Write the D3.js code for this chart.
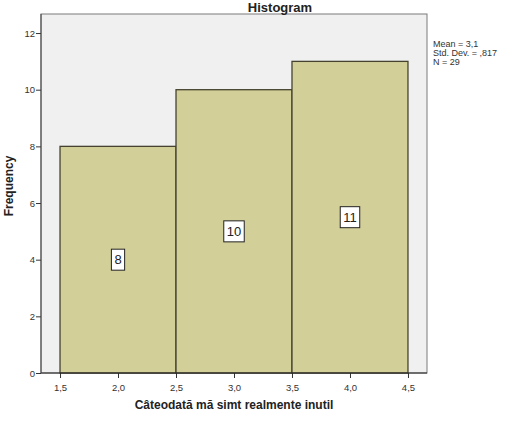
<!DOCTYPE html>
<html>
<head>
<meta charset="utf-8">
<script src="https://cdn.jsdelivr.net/npm/d3@7"></script>
<style>
  body { margin: 0; background: #fff; }
  text { font-family: "Liberation Sans", Arial, sans-serif; }
</style>
</head>
<body>
<svg width="512" height="423"></svg>
<script>
// intervalele histogramei si frecventele
const binStart = [1.5, 2.5, 3.5];
const binEnd = [2.5, 3.5, 4.5];
const freq = [8, 10, 11];
const xTicks = [1.5, 2.0, 2.5, 3.0, 3.5, 4.0, 4.5];
const yTicks = [0, 2, 4, 6, 8, 10, 12];
const stats = ["Mean = 3,1", "Std. Dev. = ,817", "N = 29"];

const svg = d3.select("svg");
const pLeft = 41, pRight = 427, pTop = 14, pBottom = 373;

const x = d3.scaleLinear()
    .domain([1.336, 4.664])
    .range([pLeft, pRight]);

const y = d3.scaleLinear()
    .domain([0, 12])
    .range([pBottom, pBottom - 12 * 28.33]);

// fundalul zonei de grafic
svg.append("rect")
    .attr("x", pLeft).attr("y", pTop)
    .attr("width", pRight - pLeft).attr("height", pBottom - pTop)
    .attr("fill", "#f0f0f0")
    .attr("stroke", "#7a7a7a");

const bins = freq.map((f, i) => ({x0: binStart[i], x1: binEnd[i], n: f}));

svg.selectAll("rect.bar")
  .data(bins)
  .enter().append("rect")
    .attr("class", "bar")
    .attr("x", d => x(d.x0))
    .attr("y", d => y(d.n))
    .attr("width", d => x(d.x1) - x(d.x0))
    .attr("height", d => y(0) - y(d.n))
    .attr("fill", "#d3cf99")
    .attr("stroke", "#45432f")
    .attr("stroke-width", 1.3);

// etichetele cu valori
const lab = svg.selectAll("g.lab")
  .data(bins)
  .enter().append("g")
    .attr("class", "lab")
    .attr("transform", d => `translate(${x((d.x0 + d.x1) / 2)},${y(d.n / 2)})`);

lab.append("text")
    .attr("text-anchor", "middle")
    .attr("dy", "0.36em")
    .attr("font-size", 13)
    .attr("fill", "#222")
    .text(d => d.n)
    .each(function() {
      const b = this.getBBox();
      d3.select(this.parentNode).insert("rect", "text")
        .attr("x", b.x - 3).attr("y", -10.5)
        .attr("width", b.width + 6).attr("height", 21)
        .attr("fill", "#fff")
        .attr("stroke", "#222")
        .attr("stroke-width", 1);
    });

// axe
const gx = svg.append("g")
    .attr("transform", `translate(0,${pBottom})`)
    .call(d3.axisBottom(x)
      .tickValues(xTicks)
      .tickSize(5)
      .tickFormat(d => d3.format(".1f")(d).replace(".", ",")));
gx.select(".domain").remove();
gx.selectAll("text").attr("font-size", 9.5).attr("fill", "#333").attr("dy", "1.1em");
gx.selectAll("line").attr("stroke", "#333");

const gy = svg.append("g")
    .attr("transform", `translate(${pLeft},0)`)
    .call(d3.axisLeft(y)
      .tickValues(yTicks)
      .tickSize(5)
      .tickFormat(d3.format("d")));
gy.select(".domain").remove();
gy.selectAll("text").attr("font-size", 9.5).attr("fill", "#333").attr("x", -6);
gy.selectAll("line").attr("stroke", "#333");

svg.append("line")
    .attr("x1", pLeft).attr("x2", pRight)
    .attr("y1", pBottom).attr("y2", pBottom)
    .attr("stroke", "#222");
svg.append("line")
    .attr("x1", pLeft).attr("x2", pLeft)
    .attr("y1", pTop).attr("y2", pBottom)
    .attr("stroke", "#444");

// titluri
svg.append("text")
    .attr("x", 280).attr("y", 12)
    .attr("text-anchor", "middle")
    .attr("font-size", 13)
    .attr("font-weight", "bold")
    .attr("fill", "#222")
    .text("Histogram");

svg.append("text")
    .attr("x", 234).attr("y", 409)
    .attr("text-anchor", "middle")
    .attr("font-size", 12)
    .attr("font-weight", "bold")
    .attr("fill", "#222")
    .text("Câteodată mă simt realmente inutil");

svg.append("text")
    .attr("transform", "translate(13,186) rotate(-90)")
    .attr("text-anchor", "middle")
    .attr("font-size", 12)
    .attr("font-weight", "bold")
    .attr("fill", "#222")
    .text("Frequency");

svg.selectAll("text.stat")
  .data(stats)
  .enter().append("text")
    .attr("class", "stat")
    .attr("x", 433)
    .attr("y", (d, i) => 47 + i * 9)
    .attr("font-size", 9)
    .attr("fill", "#333")
    .text(d => d);
</script>
</body>
</html>
